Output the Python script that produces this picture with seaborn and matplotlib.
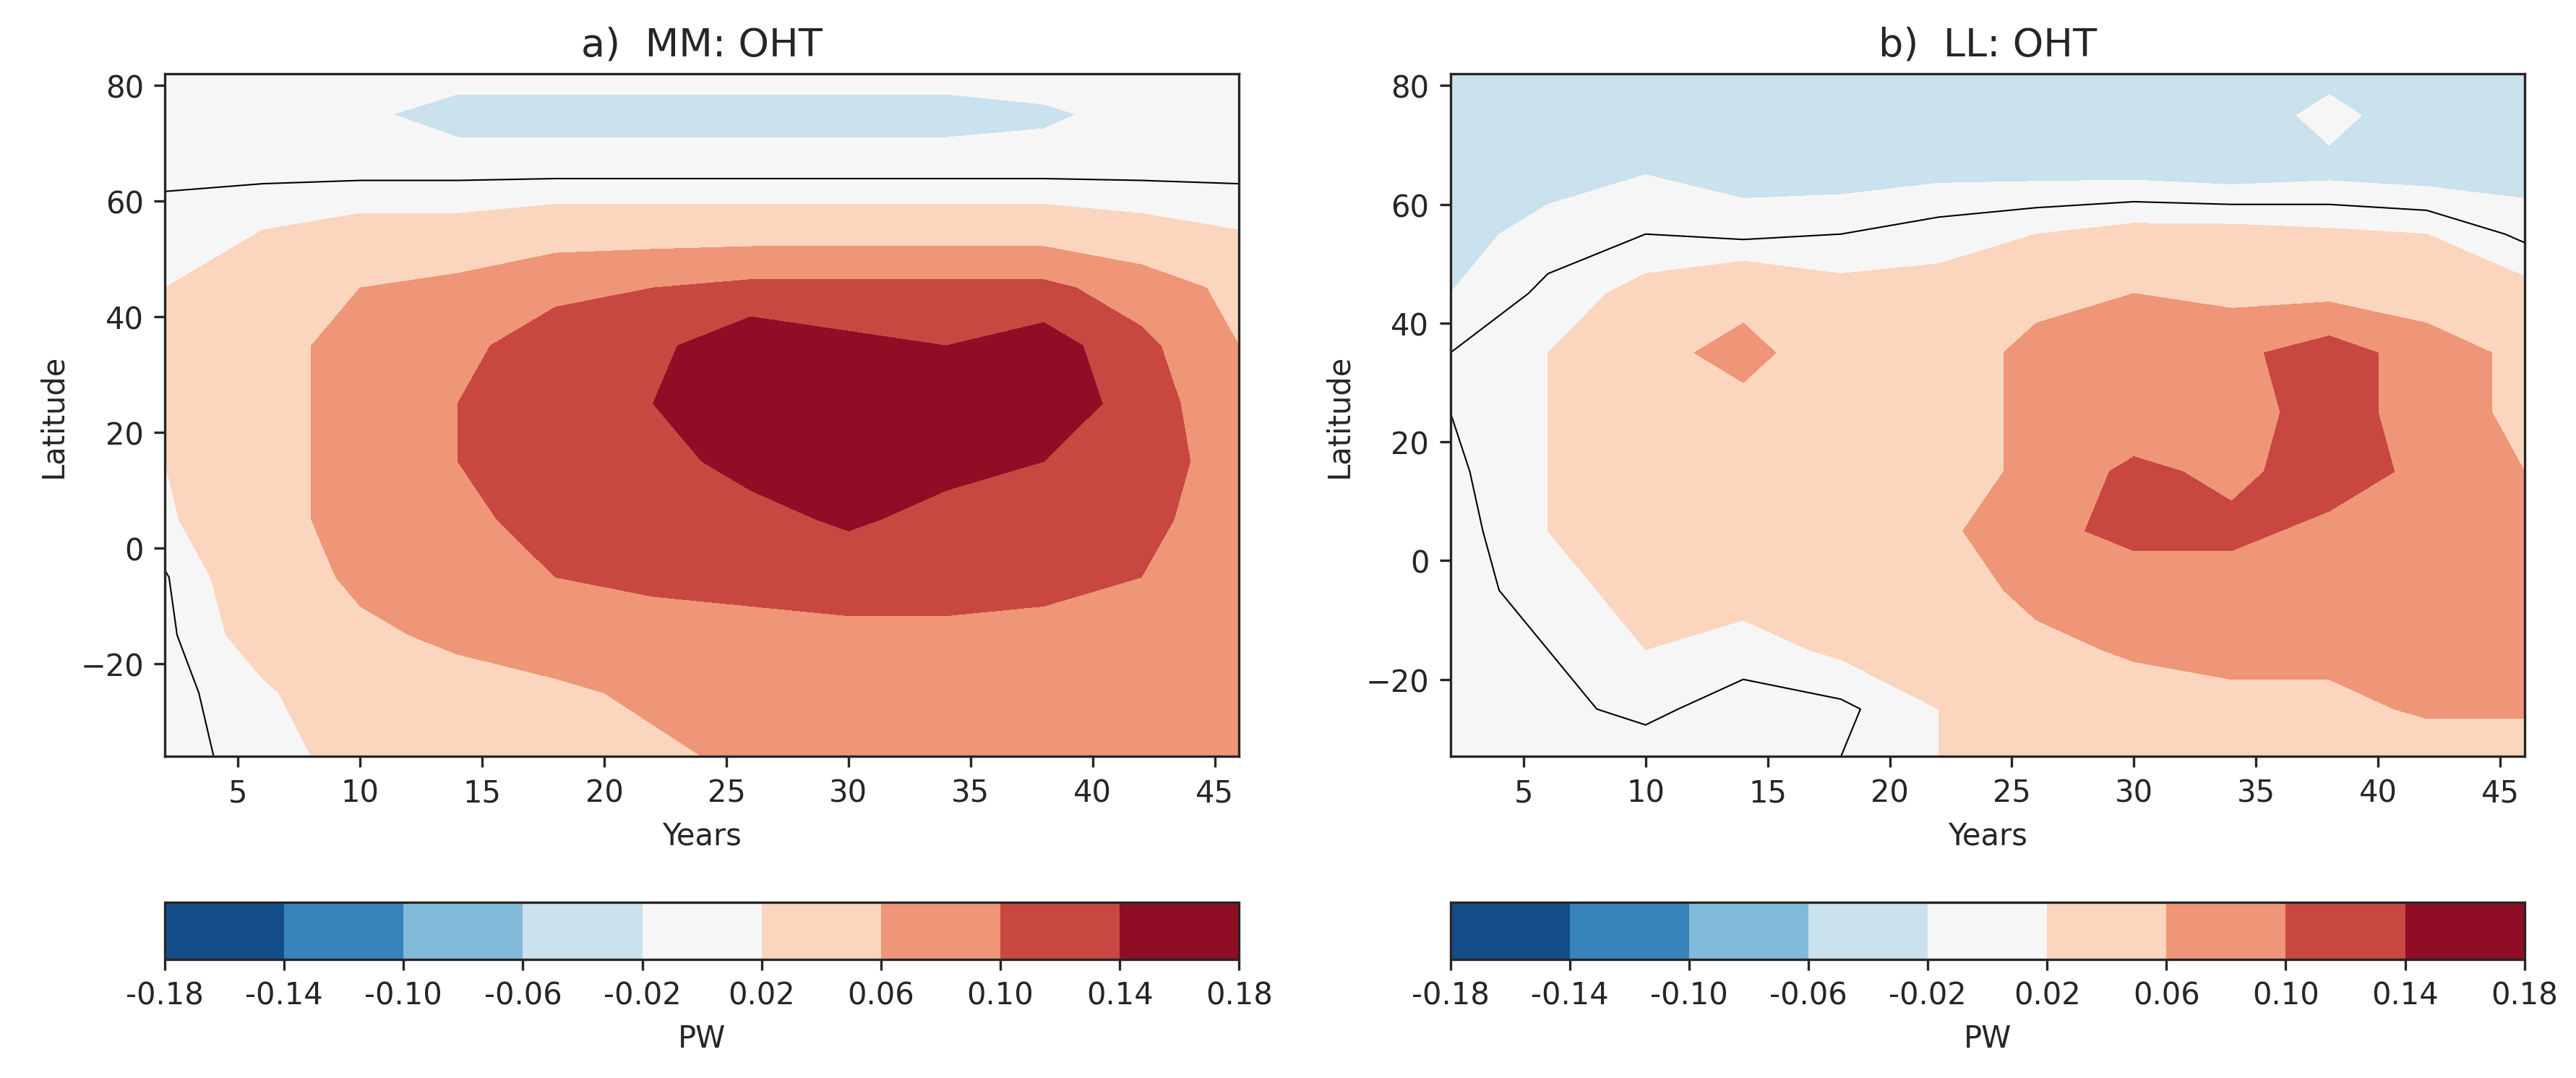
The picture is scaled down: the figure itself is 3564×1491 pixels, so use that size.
import numpy as np
import matplotlib
matplotlib.use("Agg")
import matplotlib.pyplot as plt
import seaborn as sns

sns.set_style("ticks")
plt.rcParams["font.family"] = ["DejaVu Sans"]

# --------------------------- data ---------------------------
years = [2, 6, 10, 14, 18, 22, 26, 30, 34, 38, 42, 46]
lat_mm = [-36, -25, -15, -5, 5, 15, 25, 35, 45, 55, 65, 75, 82]
lat_ll = [-33, -25, -15, -5, 5, 15, 25, 35, 45, 55, 65, 75, 82]

oht_mm = [
    [-0.010, 0.010, 0.030, 0.040, 0.050, 0.055, 0.065, 0.070, 0.070, 0.070, 0.070, 0.065],
    [-0.008, 0.015, 0.045, 0.050, 0.055, 0.065, 0.070, 0.075, 0.075, 0.075, 0.075, 0.070],
    [-0.005, 0.035, 0.055, 0.065, 0.075, 0.080, 0.085, 0.090, 0.090, 0.090, 0.085, 0.075],
    [-0.002, 0.045, 0.065, 0.080, 0.100, 0.110, 0.115, 0.120, 0.120, 0.110, 0.100, 0.080],
    [0.015, 0.050, 0.070, 0.090, 0.115, 0.120, 0.130, 0.145, 0.130, 0.130, 0.110, 0.080],
    [0.020, 0.050, 0.070, 0.100, 0.120, 0.130, 0.150, 0.150, 0.150, 0.140, 0.120, 0.080],
    [0.025, 0.050, 0.070, 0.100, 0.120, 0.140, 0.170, 0.145, 0.150, 0.170, 0.120, 0.070],
    [0.030, 0.050, 0.070, 0.090, 0.120, 0.130, 0.170, 0.150, 0.140, 0.160, 0.110, 0.060],
    [0.020, 0.045, 0.060, 0.070, 0.090, 0.100, 0.110, 0.110, 0.110, 0.110, 0.080, 0.050],
    [0.010, 0.020, 0.030, 0.030, 0.040, 0.040, 0.040, 0.040, 0.040, 0.040, 0.030, 0.020],
    [-0.005, -0.005, -0.005, -0.005, -0.005, -0.005, -0.005, -0.005, -0.005, -0.005, -0.005, -0.005],
    [-0.005, -0.010, -0.015, -0.030, -0.030, -0.030, -0.030, -0.030, -0.030, -0.025, -0.010, -0.005],
    [-0.005, -0.005, -0.005, -0.010, -0.010, -0.010, -0.010, -0.010, -0.010, -0.005, -0.005, -0.005],
]

oht_ll = [
    [-0.010, -0.010, -0.010, -0.005, 0.000, 0.020, 0.030, 0.030, 0.030, 0.030, 0.040, 0.040],
    [-0.010, -0.005, 0.005, -0.010, -0.005, 0.020, 0.030, 0.040, 0.050, 0.050, 0.065, 0.065],
    [-0.010, 0.000, 0.020, 0.010, 0.025, 0.030, 0.050, 0.065, 0.070, 0.070, 0.070, 0.065],
    [-0.010, 0.010, 0.030, 0.030, 0.030, 0.040, 0.070, 0.080, 0.080, 0.080, 0.080, 0.070],
    [-0.010, 0.020, 0.030, 0.030, 0.035, 0.050, 0.090, 0.110, 0.110, 0.090, 0.080, 0.070],
    [-0.005, 0.020, 0.030, 0.040, 0.050, 0.040, 0.070, 0.110, 0.090, 0.120, 0.090, 0.060],
    [0.000, 0.020, 0.040, 0.050, 0.040, 0.040, 0.070, 0.070, 0.080, 0.120, 0.080, 0.050],
    [0.000, 0.020, 0.050, 0.070, 0.040, 0.040, 0.070, 0.070, 0.090, 0.120, 0.080, 0.050],
    [-0.020, 0.005, 0.030, 0.050, 0.030, 0.030, 0.050, 0.060, 0.050, 0.050, 0.040, 0.030],
    [-0.030, -0.010, 0.000, -0.005, 0.000, 0.010, 0.020, 0.030, 0.030, 0.025, 0.020, -0.005],
    [-0.030, -0.030, -0.020, -0.030, -0.030, -0.025, -0.025, -0.025, -0.030, -0.025, -0.030, -0.030],
    [-0.030, -0.030, -0.025, -0.030, -0.030, -0.030, -0.030, -0.030, -0.030, -0.015, -0.030, -0.030],
    [-0.020, -0.025, -0.025, -0.025, -0.025, -0.025, -0.025, -0.025, -0.025, -0.025, -0.025, -0.020],
]

levels = np.round(np.arange(-0.18, 0.181, 0.04), 2)
panels = [("a)  MM: OHT", lat_mm, oht_mm, (-36, 82)),
          ("b)  LL: OHT", lat_ll, oht_ll, (-33, 82))]

fig = plt.figure(figsize=(11.88, 4.973), dpi=300)
ax_boxes = [[0.064, 0.298, 0.417, 0.633], [0.563, 0.298, 0.417, 0.633]]
cb_boxes = [[0.064, 0.110, 0.417, 0.053], [0.563, 0.110, 0.417, 0.053]]

for (title, lats, vals, ylim), box, cbox in zip(panels, ax_boxes, cb_boxes):
    ax = fig.add_axes(box)
    X, Y = np.meshgrid(years, lats)
    Z = np.asarray(vals)
    cf = ax.contourf(X, Y, Z, levels=levels, cmap="RdBu_r")
    ax.contour(X, Y, Z, levels=[0.0], colors="k", linewidths=0.5)
    ax.set_xlim(2, 46); ax.set_ylim(*ylim)
    ax.set_xticks([5, 10, 15, 20, 25, 30, 35, 40, 45])
    ax.set_yticks([-20, 0, 20, 40, 60, 80])
    ax.set_xlabel("Years"); ax.set_ylabel("Latitude")
    ax.set_title(title, fontsize=13)
    cax = fig.add_axes(cbox)
    cb = fig.colorbar(cf, cax=cax, orientation="horizontal", ticks=levels)
    cb.ax.set_xticklabels([f"{v:.2f}" for v in levels])
    cb.set_label("PW")

fig.savefig("out.png", dpi=300)
